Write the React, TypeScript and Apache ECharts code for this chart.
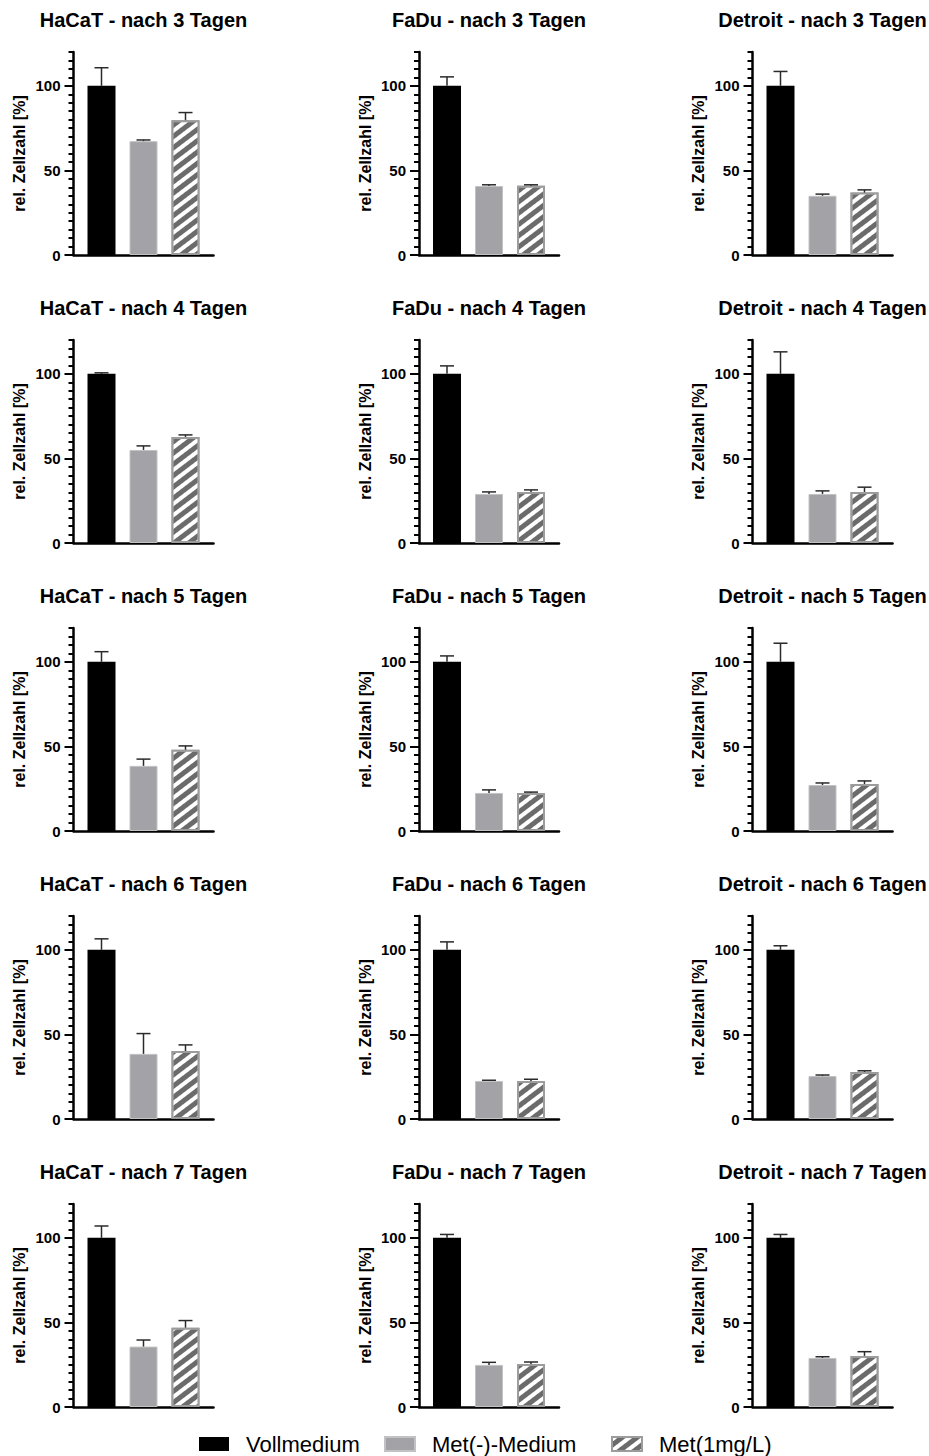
import React, { useEffect, useRef } from "react";
import * as echarts from "echarts";

// ---------- data ----------
const CELL_LINES = ["HaCaT", "FaDu", "Detroit"];
const DAYS = [3, 4, 5, 6, 7];
const GROUPS = ["Vollmedium", "Met(-)-Medium", "Met(1mg/L)"];

// rows = days (3..7), columns = cell lines (HaCaT, FaDu, Detroit)
const vollMean = [
  [100, 100, 100],
  [100, 100, 100],
  [100, 100, 100],
  [100, 100, 100],
  [100, 100, 100],
];
const vollErr = [
  [10.7, 5.3, 8.5],
  [0.6, 4.7, 13],
  [6, 3.5, 11],
  [6.5, 4.7, 2.4],
  [7, 2, 2],
];
const metMinusMean = [
  [67.3, 40.8, 35],
  [55, 29, 29],
  [38.5, 22.5, 27.2],
  [38.5, 22.5, 25.4],
  [35.7, 24.9, 29],
];
const metMinusErr = [
  [0.7, 0.7, 1],
  [2.4, 1.2, 1.8],
  [4, 1.8, 1.2],
  [12, 0.4, 0.6],
  [3.9, 1.5, 0.7],
];
const met1Mean = [
  [79.7, 41, 36.9],
  [62.7, 30.2, 30.2],
  [48, 22.5, 27.8],
  [40.2, 22.5, 27.8],
  [46.9, 25.4, 30.2],
];
const met1Err = [
  [4.5, 0.5, 1.6],
  [1.2, 1.2, 2.8],
  [2.3, 0.5, 1.8],
  [3.6, 1, 0.7],
  [4.2, 1.2, 2.5],
];

const Y_LABEL_TICKS = [0, 50, 100];
const Y_MINOR_TICKS = [0, 5, 10, 15, 20, 25, 30, 35, 40, 45, 50, 55, 60, 65, 70, 75, 80, 85, 90, 95, 100, 105, 110, 115, 120];
const Y_NAME = "rel. Zellzahl [%]";

// ---------- layout ----------
const FONT = "'Liberation Sans', Arial, Helvetica, sans-serif";
const AXIS_X = [73.5, 419, 752.5];
const ZERO_Y0 = 255;
const ROW_STEP = 288;
const PLOT_H = 203;
const PLOT_W = 140;
const X_MIN = -2 / 3;
const X_MAX = 8 / 3;
const LEGEND_X = [199, 384, 611];

const MEANS = [vollMean, metMinusMean, met1Mean];
const ERRS = [vollErr, metMinusErr, met1Err];

const STYLES: any[] = [
  { color: "#000000", borderColor: "#000000", borderWidth: 0 },
  { color: "#a3a3a7", borderColor: "#c2c2c4", borderWidth: 1 },
  {
    color: "#6b6b6b",
    borderColor: "#9c9c9c",
    borderWidth: 2,
    decal: {
      symbol: "rect",
      symbolSize: 1,
      color: "#ffffff",
      dashArrayX: [1, 0],
      dashArrayY: [4, 5],
      rotation: -0.65,
    },
  },
];

function renderErr(params: any, api: any) {
  const x = api.value(0);
  const v = api.value(1);
  const e = api.value(2);
  const top = api.coord([x, v + e]);
  const base = api.coord([x, v]);
  const style = { stroke: "#2a2a2a", lineWidth: 1.5 };
  return {
    type: "group",
    children: [
      { type: "line", shape: { x1: top[0], y1: base[1], x2: top[0], y2: top[1] }, style },
      { type: "line", shape: { x1: top[0] - 7, y1: top[1], x2: top[0] + 7, y2: top[1] }, style },
    ],
  };
}

function buildOption() {
  const grid: any[] = [];
  const xAxis: any[] = [];
  const yAxis: any[] = [];
  const series: any[] = [];
  const title: any[] = [];

  DAYS.forEach((day, r) => {
    CELL_LINES.forEach((cell, c) => {
      const i = r * 3 + c;
      const zero = ZERO_Y0 + r * ROW_STEP;
      const left = AXIS_X[c];
      grid.push({ left, top: zero - PLOT_H, width: PLOT_W, height: PLOT_H });
      title.push({
        text: `${cell} - nach ${day} Tagen`,
        left: left + PLOT_W / 2,
        top: zero - PLOT_H - 32.5,
        textAlign: "center",
        textVerticalAlign: "middle",
        padding: 0,
        textStyle: { fontSize: 20, fontWeight: "bold", color: "#000", fontFamily: FONT },
      });
      xAxis.push({
        type: "value",
        gridIndex: i,
        min: X_MIN,
        max: X_MAX,
        axisLine: { show: true, onZero: false, lineStyle: { color: "#000", width: 2.5 } },
        axisTick: { show: false },
        axisLabel: { show: false },
        splitLine: { show: false },
      });
      yAxis.push({
        type: "value",
        gridIndex: i,
        position: "left",
        min: 0,
        max: 120,
        interval: 50,
        name: Y_NAME,
        nameLocation: "middle",
        nameGap: 46,
        nameTextStyle: { fontSize: 16, fontWeight: "bold", color: "#000", fontFamily: FONT },
        axisLine: { show: true, onZero: false, lineStyle: { color: "#000", width: 2.5 } },
        axisTick: { show: true, length: 9, customValues: Y_LABEL_TICKS, lineStyle: { color: "#000", width: 2 } },
        axisLabel: {
          customValues: Y_LABEL_TICKS,
          margin: 13,
          fontSize: 15,
          fontWeight: "bold",
          color: "#000",
          fontFamily: FONT,
          formatter: (v: number) => (Y_LABEL_TICKS.indexOf(v) >= 0 ? String(v) : ""),
        },
        splitLine: { show: false },
      });
      yAxis.push({
        type: "value",
        gridIndex: i,
        position: "left",
        min: 0,
        max: 120,
        interval: 5,
        axisLine: { show: false, onZero: false },
        axisTick: { show: true, length: 5, customValues: Y_MINOR_TICKS, lineStyle: { color: "#000", width: 2 } },
        axisLabel: { show: false },
        splitLine: { show: false },
      });
      GROUPS.forEach((g, k) => {
        series.push({
          type: "bar",
          name: g,
          xAxisIndex: i,
          yAxisIndex: 2 * i,
          barWidth: 28,
          barGap: "-100%",
          data: [[k, MEANS[k][r][c]]],
          itemStyle: STYLES[k],
          emphasis: { disabled: true },
        });
      });
      series.push({
        type: "custom",
        name: "SD",
        xAxisIndex: i,
        yAxisIndex: 2 * i,
        z: 5,
        silent: true,
        encode: { x: 0, y: 1 },
        data: GROUPS.map((_, k) => [k, MEANS[k][r][c], ERRS[k][r][c]]),
        renderItem: renderErr,
      });
    });
  });

  const legend = GROUPS.map((g, k) => ({
    data: [g],
    left: LEGEND_X[k],
    top: 1433,
    padding: 0,
    icon: "rect",
    itemWidth: 30,
    itemHeight: 14,
    selectedMode: false,
    textStyle: { fontSize: 22, color: "#000", fontFamily: FONT, padding: [0, 0, 0, 12] },
  }));

  return {
    animation: false,
    backgroundColor: "#ffffff",
    title,
    legend,
    grid,
    xAxis,
    yAxis,
    series,
  };
}

export default function App() {
  const ref = useRef<HTMLDivElement>(null);
  useEffect(() => {
    if (!ref.current) return;
    const chart = echarts.init(ref.current, null, { renderer: "svg" });
    chart.setOption(buildOption() as any);
    return () => chart.dispose();
  }, []);
  return (
    <div
      ref={ref}
      style={{ position: "absolute", left: 0, top: 0, width: 929, height: 1456 }}
    />
  );
}
